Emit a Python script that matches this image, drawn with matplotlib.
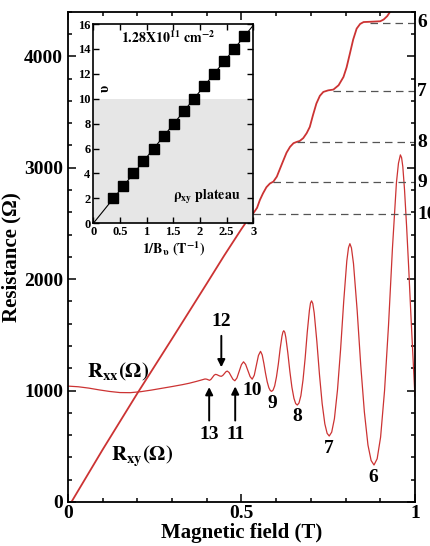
import numpy as np
import matplotlib
matplotlib.use('Agg')
import matplotlib.pyplot as plt

# fonts: times-like bold everywhere
plt.rcParams['font.family'] = ['Liberation Serif', 'DejaVu Serif']
plt.rcParams['font.weight'] = 'bold'
plt.rcParams['mathtext.fontset'] = 'stix'

# ---- data ----
# Rxx (ohm) vs magnetic field (T)
B_xx = [0.000, 0.030, 0.060, 0.090, 0.120, 0.150, 0.180, 0.210, 0.240, 0.270,
        0.300, 0.330, 0.350, 0.370, 0.385, 0.395, 0.400, 0.408, 0.412, 0.4165,
        0.421, 0.425, 0.429, 0.4335, 0.438, 0.442, 0.446, 0.4505, 0.455, 0.459,
        0.4645, 0.470, 0.4755, 0.481, 0.487, 0.4935, 0.500, 0.506, 0.512, 0.5185,
        0.525, 0.531, 0.537, 0.543, 0.549, 0.555, 0.5598, 0.5646, 0.5694, 0.5742,
        0.579, 0.5832, 0.587, 0.5912, 0.5958, 0.601, 0.6063, 0.6115, 0.6168, 0.6195,
        0.622, 0.625, 0.6279, 0.6337, 0.6396, 0.6454, 0.6513, 0.6563, 0.661, 0.6659,
        0.6713, 0.6774, 0.6836, 0.6897, 0.6959, 0.699, 0.702, 0.7055, 0.7097, 0.7173,
        0.725, 0.7326, 0.7403, 0.7469, 0.753, 0.7601, 0.7679, 0.7768, 0.7857, 0.7947,
        0.8036, 0.8085, 0.8125, 0.817, 0.8229, 0.8334, 0.8438, 0.8542, 0.8646, 0.8737,
        0.882, 0.8911, 0.901, 0.9124, 0.9238, 0.9352, 0.9466, 0.9525, 0.958, 0.9615,
        0.965, 0.970, 0.976, 0.982, 0.988, 0.994, 1.000]
R_xx = [1040, 1034, 1022, 1006, 992, 982, 981, 990, 1004, 1020,
        1036, 1053, 1066, 1082, 1095, 1104, 1102, 1092, 1100, 1118,
        1137, 1145, 1143, 1136, 1130, 1128, 1135, 1151, 1168, 1175,
        1162, 1131, 1101, 1088, 1113, 1173, 1233, 1258, 1235, 1180,
        1125, 1102, 1138, 1227, 1315, 1352, 1320, 1244, 1155, 1079,
        1025, 1000, 993, 1004, 1042, 1124, 1238, 1374, 1488, 1525,
        1537, 1522, 1477, 1337, 1170, 1030, 930, 883, 870, 889,
        954, 1094, 1291, 1525, 1721, 1785, 1805, 1782, 1696, 1441,
        1138, 883, 701, 616, 592, 627, 747, 1006, 1369, 1800,
        2163, 2282, 2318, 2280, 2139, 1722, 1226, 809, 511, 372,
        332, 388, 582, 1000, 1584, 2280, 2865, 3040, 3115, 3090,
        3010, 2800, 2470, 2100, 1700, 1320, 950]

# Rxy (ohm) vs magnetic field (T)
B_xy = [0.010, 0.100, 0.200, 0.300, 0.400, 0.450, 0.500, 0.510, 0.522, 0.534,
        0.545, 0.553, 0.562, 0.572, 0.582, 0.592, 0.602, 0.611, 0.621, 0.630,
        0.640, 0.650, 0.659, 0.668, 0.678, 0.688, 0.697, 0.706, 0.716, 0.726,
        0.736, 0.750, 0.765, 0.780, 0.794, 0.803, 0.8125, 0.822, 0.832, 0.842,
        0.852, 0.875, 0.900, 0.910, 0.920, 0.928, 0.940]
R_xy = [0, 470, 975, 1465, 1960, 2210, 2450, 2495, 2550, 2590,
        2640, 2709, 2769, 2825, 2858, 2875, 2920, 2990, 3067, 3135,
        3187, 3220, 3231, 3240, 3265, 3310, 3366, 3470, 3576, 3645,
        3680, 3694, 3701, 3740, 3814, 3900, 4024, 4150, 4248, 4290,
        4307, 4310, 4314, 4330, 4360, 4397, 4460]

# quantum hall plateaus (dashed guides) and filling factors
plateau_nu = ['6', '7', '8', '9', '10']
plateau_R = [4302, 3687, 3227, 2868, 2581]
plateau_Bstart = [0.87, 0.765, 0.659, 0.592, 0.534]

# Rxx minima labels
min_labels = ['10', '9', '8', '7', '6']
min_B = [0.531, 0.590, 0.661, 0.753, 0.880]
min_R = [1004, 885, 765, 481, 221]

# inset: filling factor vs 1/B
nu = [2, 3, 4, 5, 6, 7, 8, 9, 10, 11, 12, 13, 14, 15]
invB = [0.37, 0.56, 0.75, 0.94, 1.13, 1.32, 1.51, 1.70, 1.89, 2.08, 2.27, 2.46, 2.64, 2.83]
fit_x = [0, 3]
fit_y = [0, 15.9]

red = '#cc3333'

fig = plt.figure(figsize=(4.3, 5.46), dpi=100)
ax = fig.add_axes([0.158, 0.0806, 0.807, 0.898])

# 1. main curves
ax.plot(B_xy, R_xy, color=red, lw=1.3)
ax.plot(B_xx, R_xx, color=red, lw=0.9)

# 2. dashed plateau lines + filling factor labels at the right
for lab, r, b0 in zip(plateau_nu, plateau_R, plateau_Bstart):
    ax.plot([b0, 1.0], [r, r], color='#555555', lw=0.9, dashes=(6, 4))
    ax.text(1.006, r, lab, fontsize=14, fontweight='bold', ha='left', va='center',
            clip_on=False)

# 3. labels of the Rxx minima
for lab, b, r in zip(min_labels, min_B, min_R):
    ax.text(b, r, lab, fontsize=14, fontweight='bold', ha='center', va='center')

ax.text(0.407, 610, '13', fontsize=14, fontweight='bold', ha='center', va='center')
ax.text(0.483, 610, '11', fontsize=14, fontweight='bold', ha='center', va='center')
ax.text(0.442, 1617, '12', fontsize=14, fontweight='bold', ha='center', va='center')
arr = dict(arrowstyle='-|>', color='k', lw=1.4, mutation_scale=11)
ax.annotate('', xy=(0.407, 1056), xytext=(0.407, 706), arrowprops=arr)
ax.annotate('', xy=(0.482, 1062), xytext=(0.482, 706), arrowprops=arr)
ax.annotate('', xy=(0.442, 1184), xytext=(0.442, 1516), arrowprops=arr)

ax.text(0.056, 1168, r'$\mathbf{R_{xx}(\Omega)}$', fontsize=15, ha='left', va='center')
ax.text(0.125, 406, r'$\mathbf{R_{xy}(\Omega)}$', fontsize=15, ha='left', va='center')

# 4. axes cosmetics
ax.set_xlim(0, 1)
ax.set_ylim(0, 4400)
ax.set_xticks([0, 0.5, 1])
ax.set_xticklabels(['0', '0.5', '1'])
ax.set_xticks(np.arange(0, 1.01, 0.1), minor=True)
ax.set_yticks([0, 1000, 2000, 3000, 4000])
ax.set_yticks(np.arange(0, 4401, 200), minor=True)
ax.tick_params(which='both', direction='in', top=True, right=True, labelsize=14, width=1.1)
ax.tick_params(which='major', length=6)
ax.tick_params(which='minor', length=3)
ax.tick_params(axis='x', pad=2)
for s in ax.spines.values():
    s.set_linewidth(1.3)
ax.set_xlabel('Magnetic field (T)', fontsize=15, fontweight='bold', labelpad=1)
ax.set_ylabel(u'Resistance (\u03a9)', fontsize=15, fontweight='bold', labelpad=2)

# 5. inset nu vs 1/B
ins = fig.add_axes([0.2170, 0.5910, 0.3720, 0.3650])
ins.set_facecolor('white')
ins.axhspan(0, 10, color='#e6e6e6', lw=0)
ins.plot(fit_x, fit_y, color='k', lw=0.8)
ins.plot(invB, nu, 'ks', ms=6.5)
ins.set_xlim(0, 3)
ins.set_ylim(0, 16)
ins.set_xticks([0, 0.5, 1, 1.5, 2, 2.5, 3])
ins.set_xticklabels(['0', '0.5', '1', '1.5', '2', '2.5', '3'])
ins.set_yticks(range(0, 17, 2))
ins.tick_params(direction='in', top=True, right=True, labelsize=9, length=4, width=1, pad=2)
for s in ins.spines.values():
    s.set_linewidth(1.2)
ins.text(1.41, 14.9, r'$\mathbf{1.28X10^{11}\ cm^{-2}}$', fontsize=10, ha='center', va='center')
ins.text(2.13, 2.1, r'$\mathbf{\rho_{xy}\ plateau}$', fontsize=10, ha='center', va='center')
ins.text(0.22, 10.8, u'\u03c5', fontsize=10, rotation=90, ha='center', va='center')
ins.set_xlabel(r'$\mathbf{1/B_{\upsilon}\ (T^{-1})}$', fontsize=10, labelpad=1)

fig.savefig('out.png', dpi=100)
